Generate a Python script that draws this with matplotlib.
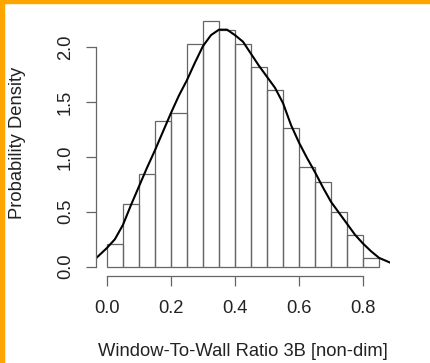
#!/usr/bin/env python3
"""
Histogram of window-to-wall ratio with a density curve on top (R base style).
"""

import numpy as np
import matplotlib
matplotlib.use('Agg')
import matplotlib.pyplot as plt
from matplotlib.patches import Rectangle

# Histogram bins (width 0.05) and densities
bin_edges = [0.00, 0.05, 0.10, 0.15, 0.20, 0.25, 0.30, 0.35, 0.40,
             0.45, 0.50, 0.55, 0.60, 0.65, 0.70, 0.75, 0.80, 0.85]
bin_density = [0.21, 0.57, 0.84, 1.33, 1.40, 2.03, 2.24, 2.16, 2.03,
               1.82, 1.61, 1.26, 0.91, 0.77, 0.50, 0.29, 0.08]

# Density curve
curve_x = [-0.040, 0.000, 0.025, 0.050, 0.075, 0.100, 0.125, 0.150, 0.175,
           0.200, 0.225, 0.250, 0.275, 0.300, 0.325, 0.350, 0.375, 0.400,
           0.425, 0.450, 0.475, 0.500, 0.525, 0.550, 0.575, 0.600, 0.625,
           0.650, 0.675, 0.700, 0.725, 0.750, 0.775, 0.800, 0.825, 0.850,
           0.890]
curve_y = [0.06, 0.17, 0.25, 0.38, 0.56, 0.73, 0.90, 1.06, 1.23,
           1.40, 1.56, 1.70, 1.86, 2.01, 2.11, 2.16, 2.16, 2.11,
           2.05, 1.94, 1.83, 1.73, 1.63, 1.49, 1.29, 1.13, 0.99,
           0.86, 0.72, 0.59, 0.49, 0.39, 0.29, 0.21, 0.14, 0.08,
           0.03]

x_ticks = [0.0, 0.2, 0.4, 0.6, 0.8]
y_ticks = [0.0, 0.5, 1.0, 1.5, 2.0]

W, H = 431, 363
FS = 13.2
font = ['Liberation Sans', 'DejaVu Sans']
plt.rcParams['font.family'] = font
plt.rcParams['font.size'] = FS

fig = plt.figure(figsize=(W / 100, H / 100), dpi=100)
fig.patch.set_facecolor('white')

# plot region in pixels
left, right, top, bottom = 96, 390, 11, 276
ax = fig.add_axes([left / W, 1 - bottom / H, (right - left) / W, (bottom - top) / H])
ax.set_facecolor('none')

widths = np.diff(bin_edges)
ax.bar(bin_edges[:-1], bin_density, width=widths, align='edge',
       fill=False, edgecolor='#666666', linewidth=0.9)
ax.plot(curve_x, curve_y, color='black', linewidth=1.5, clip_on=True)

ax.set_xlim(-0.034, 0.884)
ax.set_ylim(-0.085, 2.33)

for s in ['top', 'right']:
    ax.spines[s].set_visible(False)
ax.spines['left'].set_bounds(0, 2)
ax.spines['bottom'].set_bounds(0, 0.8)
for s in ['left', 'bottom']:
    ax.spines[s].set_color('#666666')
    ax.spines[s].set_linewidth(0.9)

ax.set_xticks(x_ticks)
ax.set_xticklabels([f'{v:.1f}' for v in x_ticks])
ax.set_yticks(y_ticks)
ax.set_yticklabels([f'{v:.1f}' for v in y_ticks], rotation=90, va='center')
ax.tick_params(direction='out', length=7.5, width=0.9, color='#666666',
               labelcolor='#222222', labelsize=FS)
ax.tick_params(axis='x', pad=9.5)
ax.tick_params(axis='y', pad=8.5)

fig.text(243 / W, 1 - 352 / H, 'Window-To-Wall Ratio 3B [non-dim]',
         ha='center', va='center', color='#222222', fontsize=FS)
fig.text(18 / W, 1 - 143 / H, 'Probability Density', rotation=90,
         ha='center', va='center', color='#222222', fontsize=FS)

# orange frame on top and left edges
fig.patches.append(Rectangle((0, 1 - 3 / H), 1, 3 / H, transform=fig.transFigure,
                             color='#FFA500', zorder=10))
fig.patches.append(Rectangle((0, 0), 4 / W, 1, transform=fig.transFigure,
                             color='#FFA500', zorder=10))

plt.savefig('out.png', dpi=100)
